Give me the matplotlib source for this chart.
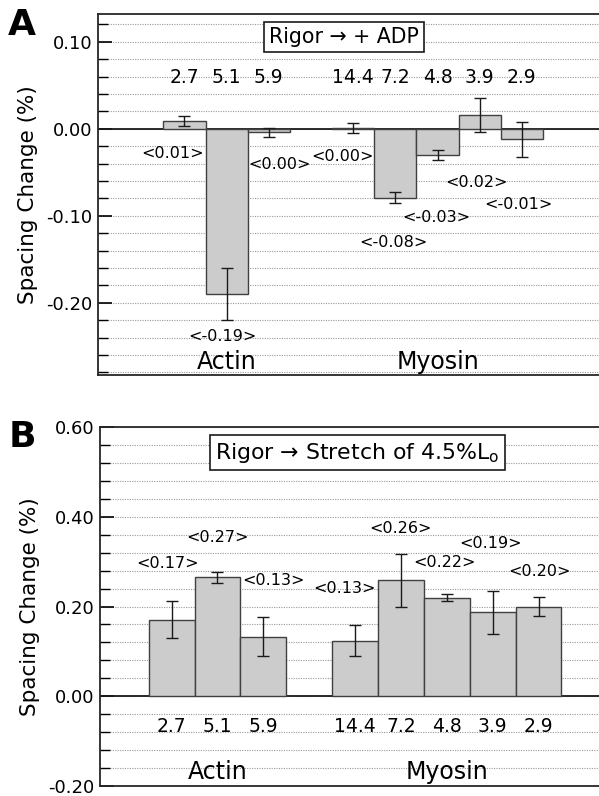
import matplotlib
matplotlib.use("Agg")
import matplotlib.pyplot as plt
from matplotlib.ticker import MultipleLocator

plt.rcParams['font.family'] = ['DejaVu Sans']

# layer lines (spacing in nm) and groups
actin_layers = ['2.7', '5.1', '5.9']
myosin_layers = ['14.4', '7.2', '4.8', '3.9', '2.9']
groups = ['Actin', 'Myosin']

# panel A: rigor -> +ADP
adp_vals = [0.009, -0.190, -0.004, 0.001, -0.079, -0.030, 0.016, -0.012]
adp_err = [0.006, 0.030, 0.005, 0.006, 0.006, 0.006, 0.020, 0.020]
adp_text = ['<0.01>', '<-0.19>', '<0.00>', '<0.00>', '<-0.08>', '<-0.03>', '<0.02>', '<-0.01>']

# panel B: rigor -> stretch
str_vals = [0.171, 0.265, 0.133, 0.124, 0.258, 0.220, 0.187, 0.200]
str_err = [0.042, 0.012, 0.044, 0.034, 0.058, 0.007, 0.048, 0.022]
str_text = ['<0.17>', '<0.27>', '<0.13>', '<0.13>', '<0.26>', '<0.22>', '<0.19>', '<0.20>']

xpos = [0, 1, 2, 4, 5, 6, 7, 8]
layer_names = actin_layers + myosin_layers

fig = plt.figure(figsize=(5.99, 7.96), dpi=100)
axA = fig.add_axes([0.1636, 0.5289, 0.84, 0.4535])
axB = fig.add_axes([0.1670, 0.0125, 0.84, 0.4511])


def panel(ax, vals, err, texts, text_xy, ylim, xlim, minor,
          num_y, grp_y, title, title_xy, ticklabels, title_size):
    ax.set_xlim(*xlim)
    ax.set_ylim(*ylim)
    ax.set_yticks(ticklabels)
    ax.set_yticklabels(['%.2f' % t for t in ticklabels], fontsize=13)
    ax.yaxis.set_minor_locator(MultipleLocator(minor))
    ax.tick_params(axis='y', which='major', direction='in', length=10, width=1.2, pad=4)
    ax.tick_params(axis='y', which='minor', direction='in', length=7, width=1)
    ax.set_xticks([])
    ax.grid(axis='y', which='both', color='0.6', linestyle=(0, (1, 1.2)), linewidth=0.8)
    ax.set_axisbelow(True)
    for s in ['left', 'top', 'bottom']:
        ax.spines[s].set_color('0.15')
        ax.spines[s].set_linewidth(1.3)
    ax.spines['right'].set_visible(False)
    ax.axhline(0, color='0.1', linewidth=1.3, zorder=1)

    ax.bar(xpos, vals, width=1.0, color='0.80', edgecolor='0.25', linewidth=1.0, zorder=2)
    ax.errorbar(xpos, vals, yerr=err, fmt='none', ecolor='0.1', elinewidth=1.0,
                capsize=4, capthick=1.0, zorder=3)

    for (tx, ty), t in zip(text_xy, texts):
        ax.text(tx, ty, t, ha='center', va='center', fontsize=11.5, zorder=4)
    for x, name in zip(xpos, layer_names):
        ax.text(x, num_y, name, ha='center', va='center', fontsize=13.5, zorder=4)
    ax.text(1, grp_y, groups[0], ha='center', va='center', fontsize=17, zorder=4)
    ax.text(6, grp_y, groups[1], ha='center', va='center', fontsize=17, zorder=4)
    ax.text(title_xy[0], title_xy[1], title, transform=ax.transAxes, ha='center',
            va='center', fontsize=title_size, zorder=5,
            bbox=dict(boxstyle='square,pad=0.25', facecolor='white', edgecolor='0.1',
                      linewidth=1.2))
    ax.set_ylabel('Spacing Change (%)', fontsize=15.5, labelpad=6)


panel(axA, adp_vals, adp_err, adp_text,
      [(-0.29, -0.028), (0.90, -0.239), (2.26, -0.041), (3.74, -0.032),
       (4.95, -0.131), (5.98, -0.102), (6.93, -0.062), (7.93, -0.087)],
      (-0.283, 0.132), (-2.05, 9.88), 0.02, 0.059, -0.268,
      'Rigor \u2192 + ADP', (0.489, 0.936), [-0.20, -0.10, 0.00, 0.10], 14.8)

panel(axB, str_vals, str_err, str_text,
      [(-0.09, 0.295), (1.01, 0.353), (2.22, 0.258), (3.78, 0.240),
       (4.99, 0.373), (5.96, 0.298), (6.95, 0.340), (8.02, 0.278)],
      (-0.20, 0.60), (-1.56, 9.41), 0.04, -0.067, -0.169,
      'Rigor \u2192 Stretch of 4.5%L$_{\\rm o}$', (0.511, 0.928),
      [-0.20, 0.00, 0.20, 0.40, 0.60], 15.8)

fig.text(0.037, 0.968, 'A', fontsize=26, fontweight='bold', ha='center', va='center')
fig.text(0.037, 0.451, 'B', fontsize=26, fontweight='bold', ha='center', va='center')

fig.savefig('out.png', dpi=100)
